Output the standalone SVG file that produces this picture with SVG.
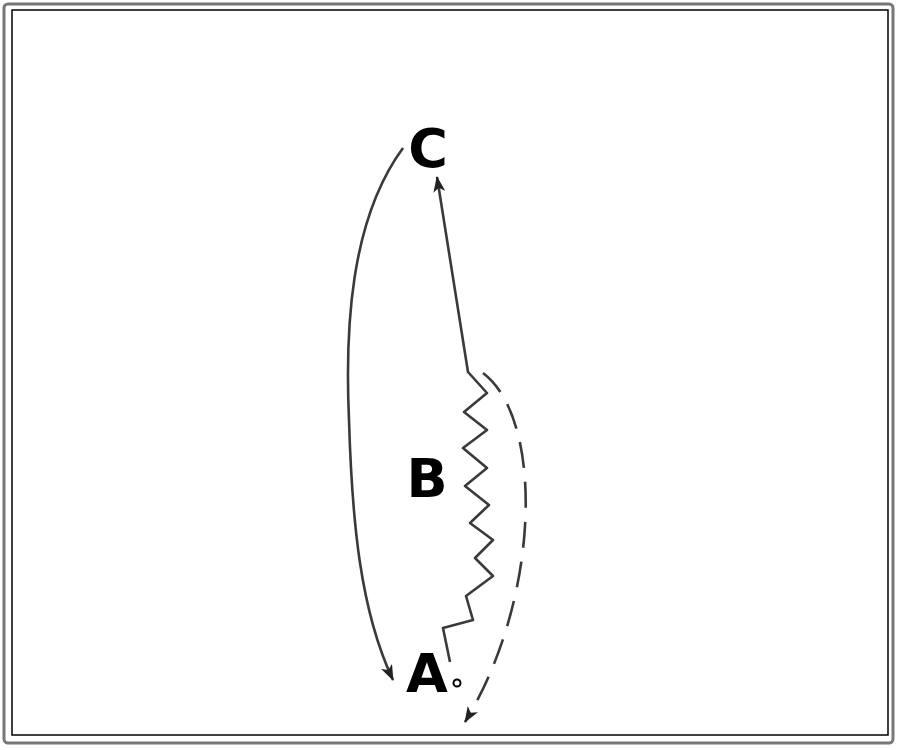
<svg xmlns="http://www.w3.org/2000/svg" width="900" height="750" viewBox="0 0 900 750">
<style>
.lbl{font-family:"DejaVu Sans","Liberation Sans",sans-serif;font-weight:bold;font-size:54px;fill:#000;text-anchor:middle}
.edge{fill:none;stroke:#3a3a3a;stroke-width:2.6;stroke-linejoin:round}
</style>
<defs>
<marker id="arr" viewBox="0 0 16 12" refX="15" refY="6" markerWidth="16" markerHeight="12" markerUnits="userSpaceOnUse" orient="auto">
<path d="M0,0 L16,6 L0,12 L4,6 Z" fill="#222"/>
</marker>
</defs>
<rect x="4" y="4" width="889" height="739" rx="4" fill="#fff" stroke="#777" stroke-width="3"/>
<rect x="12" y="10" width="876" height="725" fill="none" stroke="#000" stroke-width="1.5"/>
<g id="connectors">
<path id="e-c-a" class="edge" d="M403,148 C350,220 345,330 349,420 C352,520 360,610 393,680" marker-end="url(#arr)"/>
<path id="e-a-c" class="edge" d="M450,662 L443,628 L473,620 L466,596 L493,576 L475,558 L493,540 L470,523 L489,505 L465,486 L487,468 L463,448 L487,430 L464,412 L487,393 L468,372 L437,177" marker-end="url(#arr)"/>
<path id="e-b-a" class="edge" d="M483,373 C545,420 540,600 465,722" stroke-dasharray="26,14" marker-end="url(#arr)"/>
</g>
<g id="node-C"><text class="lbl" x="428" y="167">C</text></g>
<g id="node-B"><text class="lbl" x="427" y="497">B</text></g>
<g id="node-A"><text class="lbl" x="427" y="692">A</text><circle cx="457" cy="683" r="3.5" fill="#fff" stroke="#000" stroke-width="2"/></g>
</svg>
